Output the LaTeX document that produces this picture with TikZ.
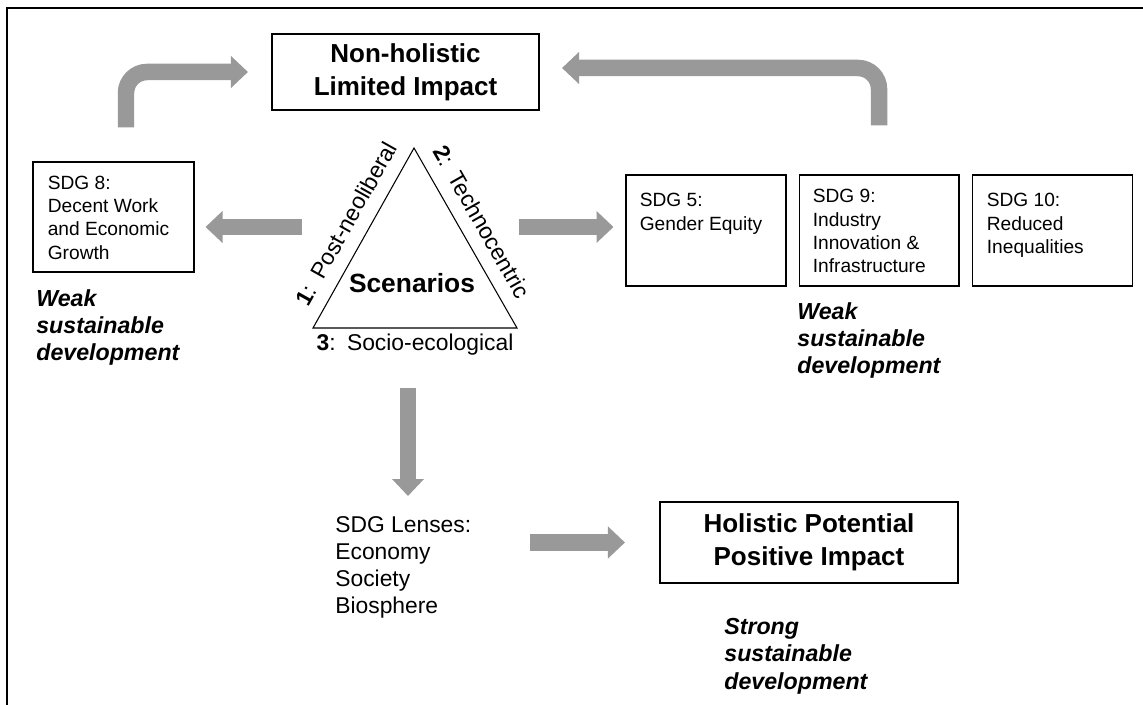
\documentclass[tikz,border=0pt]{standalone}
\usepackage{fontspec}
\setmainfont{Liberation Sans}
\usetikzlibrary{arrows.meta,positioning}
\definecolor{arrowgray}{RGB}{153,153,153}

\begin{document}
\begin{tikzpicture}[x=0.02cm, y=-0.02cm,
		titlebox/.style={draw, line width=1.2pt, inner sep=0pt, align=center, font=\fontsize{14.8}{18.8}\selectfont\bfseries},
		sdgbox/.style={draw, line width=0.6pt, minimum width=3.2cm, minimum height=2.22cm, inner sep=0pt},
		sdgtext/.style={anchor=north west, inner sep=0pt, align=left, font=\fontsize{10.9}{13.3}\selectfont},
		devtext/.style={anchor=north west, inner sep=0pt, align=left, font=\fontsize{13.2}{15.6}\selectfont\bfseries\itshape},
		sidelabel/.style={font=\fontsize{13}{15}\selectfont},
		fatarrow/.style={draw=arrowgray, line width=0.33cm, -{Triangle[width=0.62cm,length=0.34cm]}}]
		
		\useasboundingbox (0,0) rectangle (1143,705);
		\draw[line width=0.9pt] (7,705) -- (7,8) -- (1143,8);
		
		% boxes
		\node[titlebox, minimum width=5.34cm, minimum height=1.52cm] (nonholistic) at (405.5,72) {Non-holistic\\Limited Impact};
		\node[titlebox, minimum width=5.96cm, minimum height=1.62cm] (holistic) at (809,542.5) {Holistic Potential\\Positive Impact};
		\node[sdgbox, minimum width=3.22cm, minimum height=2.2cm] (sdg8) at (113.5,217) {};
		\node[sdgbox] (sdg5) at (706,230.5) {};
		\node[sdgbox] (sdg9) [right=0.24cm of sdg5] {};
		\node[sdgbox] (sdg10) [right=0.24cm of sdg9] {};
		
		\node[sdgtext] (sdg8t) at ([xshift=0.3cm, yshift=-0.28cm]sdg8.north west) {SDG 8:\\Decent Work\\and Economic\\Growth};
		\node[sdgtext] (sdg5t) at ([xshift=0.28cm, yshift=-0.37cm]sdg5.north west) {SDG 5:\\Gender Equity};
		\node[sdgtext] (sdg9t) at ([xshift=0.28cm, yshift=-0.29cm]sdg9.north west) {SDG 9:\\Industry\\Innovation \&\\Infrastructure};
		\node[sdgtext] (sdg10t) at ([xshift=0.3cm, yshift=-0.37cm]sdg10.north west) {SDG 10:\\Reduced\\Inequalities};
		
		\node[devtext] (weak8) at (36,289) {Weak\\sustainable\\development};
		\node[devtext] (weak9) at (797,302) {Weak\\sustainable\\development};
		\node[devtext] (strong) at (724,618) {Strong\\sustainable\\development};
		\node[anchor=north west, inner sep=0pt, align=left, font=\fontsize{13}{15.4}\selectfont] (lenses) at (335,516) {SDG Lenses:\\Economy\\Society\\Biosphere};
		
		% scenarios triangle
		\coordinate (apex) at (414,148);
		\coordinate (tribl) at (313,328);
		\coordinate (tribr) at (517,328);
		\draw[line width=0.6pt] (apex) -- (tribl) -- (tribr) -- cycle;
		\node[font=\fontsize{15}{18}\selectfont\bfseries] (scen) at (412,283) {Scenarios};
		\path (tribl) -- node[sidelabel, sloped, above=4.4pt, pos=0.52] (s1) {\textbf{1}:\enspace Post-neoliberal} (apex);
		\path (apex) -- node[sidelabel, sloped, above=4.4pt, pos=0.47] (s2) {\textbf{2}:\enspace Technocentric} (tribr);
		\path (tribl) -- node[sidelabel, below] (s3) {\textbf{3}:\enspace Socio-ecological} (tribr);
		
		% arrows
		\coordinate (scL) at (302,227);
		\coordinate (scR) at (519,227);
		\coordinate (scB) at (408,388);
		\draw[fatarrow, shorten >=0.22cm] (scL) -- (scL -| sdg8.east);
		\draw[fatarrow, shorten >=0.24cm] (scR) -- (scR -| sdg5.west);
		\draw[fatarrow, shorten >=0.4cm] (scB) -- (scB |- lenses.north);
		\draw[fatarrow, shorten <=1.16cm, shorten >=0.68cm] (lenses.east |- holistic.west) -- (holistic.west);
		\draw[fatarrow, rounded corners=0.42cm] ([xshift=0.25cm, yshift=0.68cm]sdg8.north) |- ([xshift=-0.46cm]nonholistic.west);
		\draw[fatarrow, rounded corners=0.42cm] ([yshift=0.98cm]sdg9.north) |- ([xshift=0.44cm, yshift=0.08cm]nonholistic.east);
		
\end{tikzpicture}
\end{document}
